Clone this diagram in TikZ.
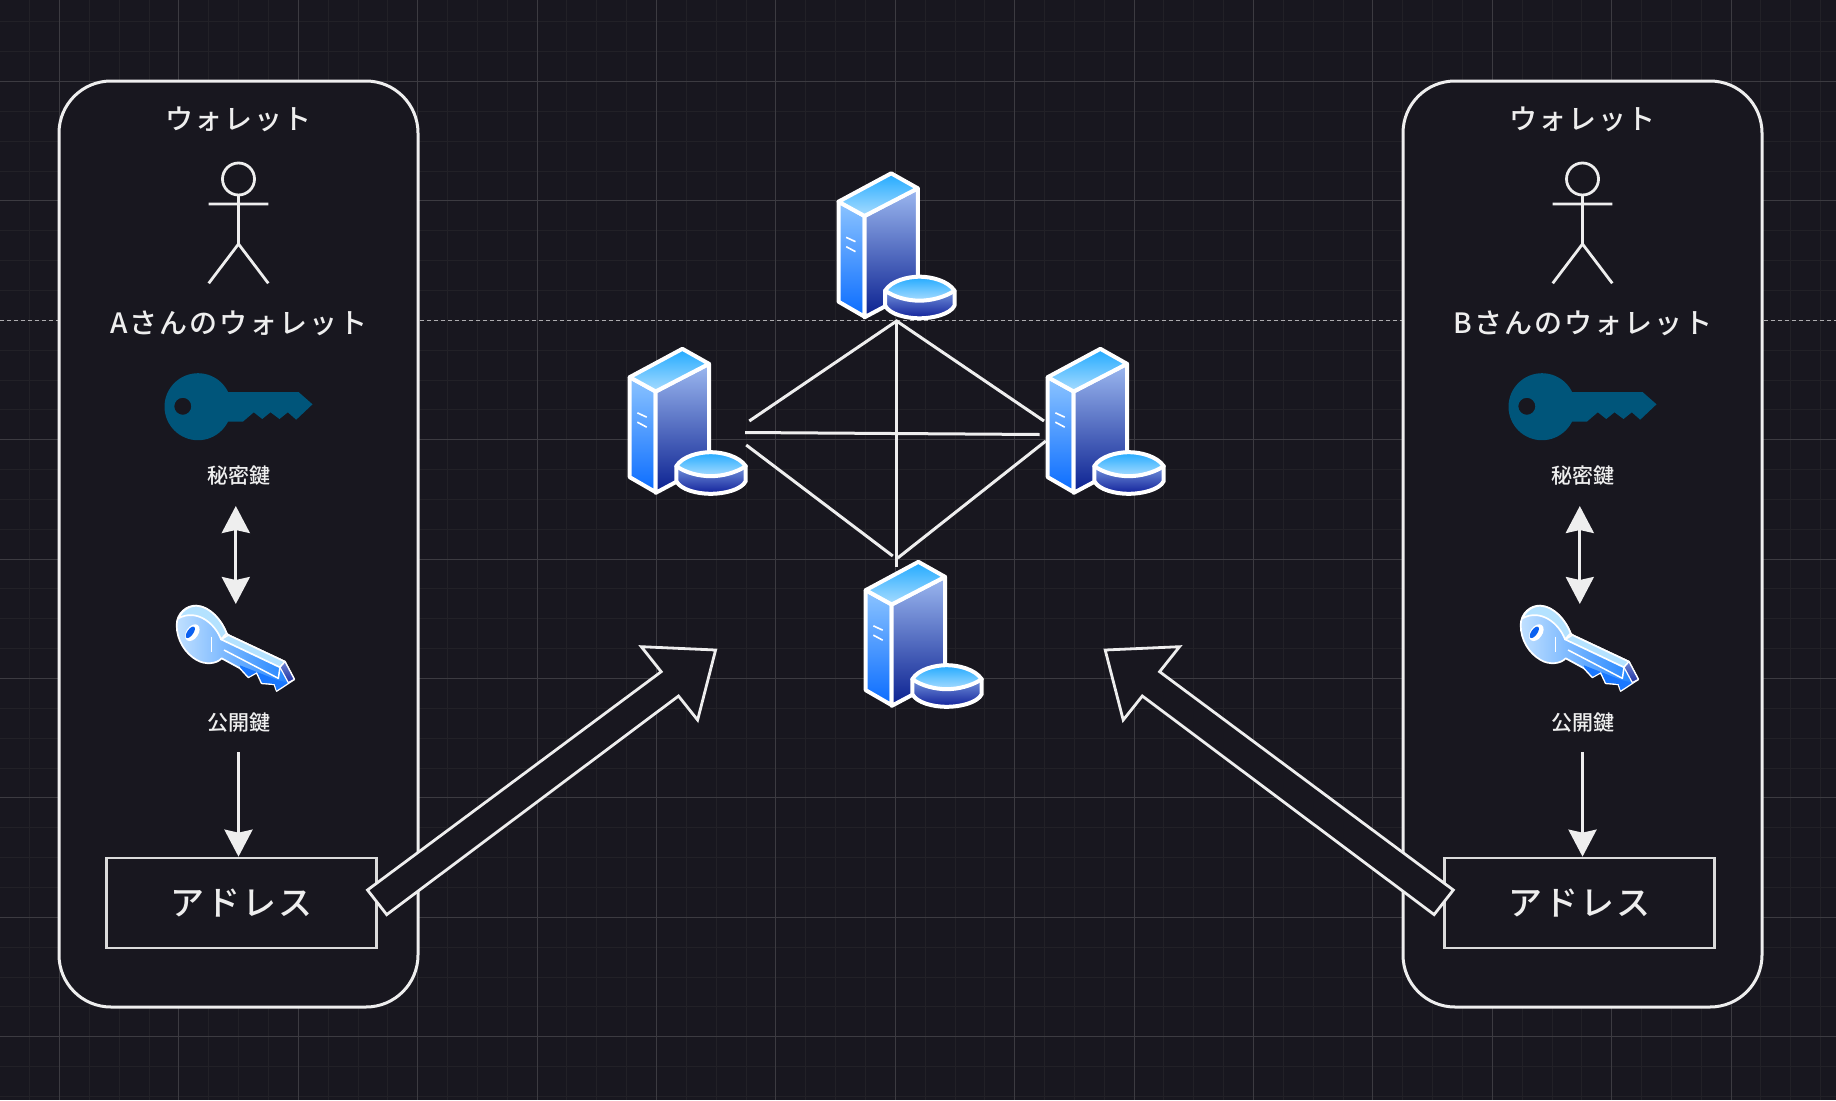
\documentclass[tikz,border=0pt]{standalone}
\usepackage{fontspec}
\usetikzlibrary{arrows.meta}
\newfontfamily\jpfont[LetterSpace=6]{Noto Sans CJK JP Medium}
\newfontfamily\jpwide[LetterSpace=7]{Noto Sans CJK JP Medium}
\newfontfamily\jpplain{Noto Sans CJK JP Medium}
\definecolor{bgc}{HTML}{18171F}
\definecolor{gmaj}{HTML}{3C3B41}
\definecolor{gmin}{HTML}{222127}
\definecolor{ink}{HTML}{EEEEEE}
\definecolor{keydark}{HTML}{00557A}
\definecolor{lface1}{HTML}{8CC4FF}
\definecolor{lface2}{HTML}{0A6CFF}
\definecolor{rface1}{HTML}{9CB8F0}
\definecolor{rface2}{HTML}{0A2090}
\definecolor{tface1}{HTML}{22AAFF}
\definecolor{tface2}{HTML}{A8DCFF}
\definecolor{cside1}{HTML}{7494DC}
\definecolor{cside2}{HTML}{10209A}
\definecolor{kl1}{HTML}{C0E0FF}
\definecolor{kl2}{HTML}{1A80FF}
\definecolor{kl3}{HTML}{B4E2FF}
\definecolor{kl4}{HTML}{1A78FF}
\definecolor{kl5}{HTML}{6C84D4}
\definecolor{kl6}{HTML}{2030A0}
\definecolor{kl7}{HTML}{0A60F0}
\tikzset{
  x=1pt,y=-1pt,
  card/.style={draw=ink,fill=bgc,line width=3pt,rounded corners=52pt,minimum width=359pt,minimum height=926pt,inner sep=0pt},
  addr/.style={draw=ink!92!black,fill=bgc,line width=2.7pt,minimum width=270pt,minimum height=90pt,text=ink,inner sep=0pt,font=\jpfont\fontsize{34}{34}\selectfont,text height=29pt,text depth=4pt},
  bigtxt/.style={text=ink,inner sep=0pt,font=\jpfont\fontsize{28}{28}\selectfont,text height=24pt,text depth=3pt},
  widetxt/.style={text=ink,inner sep=0pt,font=\jpwide\fontsize{28}{28}\selectfont,text height=24pt,text depth=3pt},
  smalltxt/.style={text=ink,inner sep=0pt,font=\jpplain\fontsize{21}{21}\selectfont,text height=18pt,text depth=2pt},
  wire/.style={draw=ink,line width=2.8pt},
  linkline/.style={draw=ink,line width=3pt},
  tipline/.style={draw=ink,line width=3pt},
  blockarrow/.style={draw=ink,fill=bgc,line width=2.8pt,line join=miter},
  headtip/.tip={Stealth[length=27pt,width=28pt,inset=3pt]},
  pics/serverpic/.style={code={
    \begin{scope}[x=0.33333pt,y=-0.33333pt,draw=white,line width=4pt,line join=round]
      \filldraw[top color=lface1,bottom color=lface2] (57,125) -- (135,168) -- (135,470) -- (57,425) -- cycle;
      \filldraw[top color=rface1,bottom color=rface2] (135,168) -- (295,85) -- (295,385) -- (195,440) -- (135,472) -- cycle;
      \filldraw[top color=tface1,bottom color=tface2] (57,125) -- (215,40) -- (295,85) -- (135,168) -- cycle;
      \draw[line width=1.6pt] (80,232) -- (108,245) (80,260) -- (108,275);
      \filldraw[top color=cside1,bottom color=cside2] (197,392) -- (197,437) .. controls (210,463) and (260,475) .. (300,475) .. controls (340,475) and (392,463) .. (405,437) -- (405,392) -- cycle;
      \filldraw[top color=tface1,bottom color=tface2] (197,392) .. controls (215,362) and (265,350) .. (300,350) .. controls (335,350) and (385,362) .. (405,392) .. controls (375,412) and (335,422) .. (300,422) .. controls (265,422) and (225,412) .. (197,392) -- cycle;
    \end{scope}
  }},
  pics/privkey/.style={code={
    \fill[keydark,even odd rule] (198.5,406.7) circle[radius=33.5] (183.3,406.3) circle[radius=8.5];
    \fill[keydark] (226,392) -- (299,392) -- (313,404.3) -- (296.7,419.7) -- (288.3,412.3) -- (280,419) -- (271,412.3) -- (262.7,419) -- (254.3,412.3) -- (243.3,421.7) -- (226,421.7) -- cycle;
  }},
  pics/pubkey/.style={code={
    \begin{scope}[x=0.33333pt,y=-0.33333pt,draw=white,line width=1.7pt,line join=round]
      \filldraw[left color=kl1,right color=kl2] (50,105) .. controls (50,70) and (80,45) .. (110,47) .. controls (150,50) and (185,90) .. (200,130) -- (205,135) -- (375,215) -- (403,268) -- (350,303) -- (343,283) -- (305,280) -- (290,248) -- (265,262) -- (240,235) -- (185,205) .. controls (170,222) and (135,225) .. (110,210) .. controls (75,190) and (50,150) .. (50,105) -- cycle;
      \filldraw[fill=kl3] (55,85) .. controls (70,52) and (100,45) .. (115,48) .. controls (150,52) and (185,90) .. (200,130) -- (183,148) .. controls (165,100) and (110,55) .. (55,85) -- cycle;
      \filldraw[fill=kl3] (183,148) -- (205,135) -- (375,215) -- (360,232) -- cycle;
      \fill[kl4] (240,226) -- (352,270) -- (385,278) -- (350,301) -- (344,282) -- (306,278) -- (291,246) -- (266,260) -- (241,233) -- cycle;
      \filldraw[top color=kl5,bottom color=kl6,line width=1.2pt] (360,232) -- (375,215) -- (403,268) -- (385,278) -- cycle;
      \draw[line width=1.5pt] (192,180) -- (355,265) -- (360,232);
      \draw[line width=1.5pt] (155,140) -- (155,185);
      \fill[white,rotate around={-35:(97,128)}] (97,128) ellipse[x radius=18,y radius=28];
      \fill[kl7,rotate around={-35:(91,127)}] (91,127) ellipse[x radius=9,y radius=20];
    \end{scope}
  }},
  pics/stickman/.style={code={
    \draw[wire] (238.5,179) circle[radius=16];
    \draw[wire] (238.5,195) -- (238.5,244) (208.7,204) -- (268.3,204) (208.7,283.3) -- (238.5,244) -- (268.3,283.3);
  }}
}
\begin{document}
\begin{tikzpicture}
\useasboundingbox (0,0) rectangle (1836,1100);
\fill[bgc] (0,0) rectangle (1836,1100);
% minor grid
\foreach \i in {0,...,62} {
  \pgfmathsetmacro{\xx}{59.5+(\i-2)*29.85}
  \draw[gmin,line width=1pt] (\xx,0) -- (\xx,1100);
}
\foreach \i in {-2,...,34} {
  \pgfmathsetmacro{\yy}{81.5+\i*29.85}
  \draw[gmin,line width=1pt] (0,\yy) -- (1836,\yy);
}
% major grid
\foreach \i in {0,...,15} {
  \pgfmathsetmacro{\xx}{59.5+\i*119.4}
  \draw[gmaj,line width=1pt] (\xx,0) -- (\xx,1100);
}
\foreach \i in {0,1,3,4,5,6,7,8} {
  \pgfmathsetmacro{\yy}{81.5+\i*119.4}
  \draw[gmaj,line width=1pt] (0,\yy) -- (1836,\yy);
}
\draw[ink!70!bgc,line width=1.2pt,dash pattern=on 4pt off 3pt] (0,320.5) -- (1836,320.5);

% cards
\node[card] (cardA) at (238.5,544) {};
\node[card] (cardB) at (1582.5,544) {};

% left wallet
\node[bigtxt] (titleA) at (238.5,119) {ウォレット};
\pic at (0,0) {stickman};
\node[widetxt] (nameA) at (239,323) {Aさんのウォレット};
\pic at (-0.5,0) {privkey};
\node[smalltxt] (secA) at (238.5,475) {秘密鍵};
\coordinate (dblTopA) at (235.8,506);
\coordinate (dblBotA) at (235.8,604);
\draw[tipline,{headtip}-{headtip}] (dblTopA) -- (dblBotA);
\pic at (160,590) {pubkey};
\node[smalltxt] (pubA) at (238.5,722) {公開鍵};
\node[addr] (addrA) at (241.7,903) {アドレス};
\coordinate (fromPubA) at (238.5,752);
\draw[tipline,-{headtip}] (fromPubA) -- (fromPubA |- addrA.north);

% right wallet
\node[bigtxt] (titleB) at (1582.5,119) {ウォレット};
\pic at (1344,0) {stickman};
\node[widetxt] (nameB) at (1583,323) {Bさんのウォレット};
\pic at (1343.5,0) {privkey};
\node[smalltxt] (secB) at (1582.5,475) {秘密鍵};
\coordinate (dblTopB) at (1579.8,506);
\coordinate (dblBotB) at (1579.8,604);
\draw[tipline,{headtip}-{headtip}] (dblTopB) -- (dblBotB);
\pic at (1504,590) {pubkey};
\node[smalltxt] (pubB) at (1582.5,722) {公開鍵};
\node[addr] (addrB) at (1579.2,903) {アドレス};
\coordinate (fromPubB) at (1582.5,752);
\draw[tipline,-{headtip}] (fromPubB) -- (fromPubB |- addrB.north);

% links
\coordinate (nTop) at (896.6,321);
\coordinate (nBot) at (896.6,567);
\coordinate (nLU) at (749.3,421);
\coordinate (nRU) at (1044,421);
\coordinate (nLM) at (745,432.5);
\coordinate (nRM) at (1039.5,434.5);
\coordinate (nLD) at (746.2,445);
\coordinate (nRD) at (1045.8,441);
\coordinate (nBL) at (892.8,556);
\coordinate (nBR) at (897.7,558);
\draw[linkline] (nTop) -- (nBot);
\draw[linkline] (nLM) -- (nRM);
\draw[linkline] (nLU) -- (nTop) -- (nRU);
\draw[linkline] (nLD) -- (nBL);
\draw[linkline] (nRD) -- (nBR);

% servers
\pic at (819.5,160) {serverpic};
\pic at (610.7,335.5) {serverpic};
\pic at (1028.7,335.5) {serverpic};
\pic at (846.7,548.5) {serverpic};

% block arrows
\coordinate (bA1) at (367.5,890);
\coordinate (bA2) at (661.2,671.7);
\coordinate (bA3) at (641.3,646.7);
\coordinate (bA4) at (715.6,650);
\coordinate (bA5) at (697.6,720);
\coordinate (bA6) at (678.5,696);
\coordinate (bA7) at (386.7,914.6);
\draw[blockarrow] (bA1) -- (bA2) -- (bA3) -- (bA4) -- (bA5) -- (bA6) -- (bA7) -- cycle;
\coordinate (bB1) at (1453.3,890);
\coordinate (bB2) at (1159.6,671.7);
\coordinate (bB3) at (1179.5,646.7);
\coordinate (bB4) at (1105.2,650);
\coordinate (bB5) at (1123.2,720);
\coordinate (bB6) at (1142.3,696);
\coordinate (bB7) at (1434.1,914.6);
\draw[blockarrow] (bB1) -- (bB2) -- (bB3) -- (bB4) -- (bB5) -- (bB6) -- (bB7) -- cycle;
\end{tikzpicture}
\end{document}
